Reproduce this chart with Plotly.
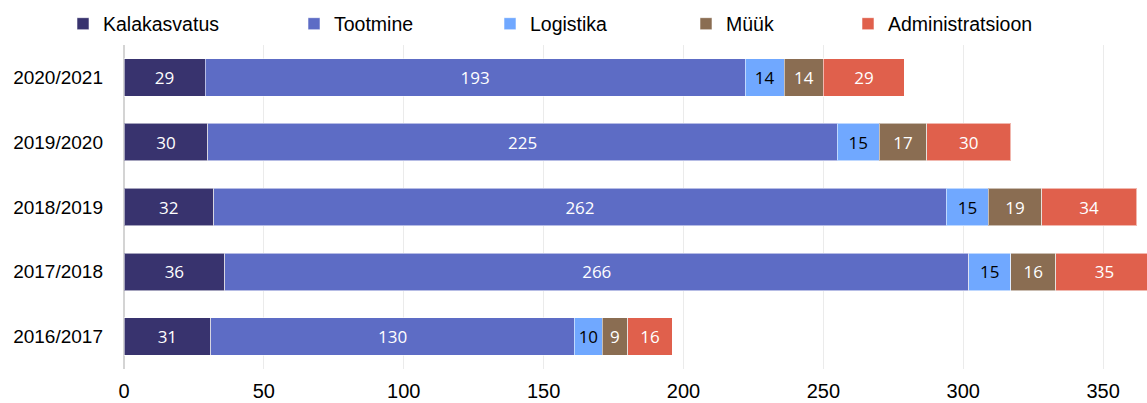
import plotly.graph_objects as go

years = ["2020/2021", "2019/2020", "2018/2019", "2017/2018", "2016/2017"]
series_names = ["Kalakasvatus", "Tootmine", "Logistika", "Müük", "Administratsioon"]
kalakasvatus = [29, 30, 32, 36, 31]
tootmine = [193, 225, 262, 266, 130]
logistika = [14, 15, 15, 15, 10]
myyk = [14, 17, 19, 16, 9]
administratsioon = [29, 30, 34, 35, 16]
x_ticks = [0, 50, 100, 150, 200, 250, 300, 350]

values = [kalakasvatus, tootmine, logistika, myyk, administratsioon]
colors = ["#38336E", "#5D6CC5", "#70A8FF", "#8A6D52", "#E0604C"]
label_colors = ["white", "white", "black", "white", "white"]

# layout geometry (pixels)
W, H = 1147, 403
ML, MR, MT, MB = 124, 0, 45, 34
PW = W - ML - MR
PH = H - MT - MB
legend_px = [63, 294, 490, 686, 848]
legend_cy = 24

fig = go.Figure()
for i, (name, vals) in enumerate(zip(series_names, values)):
    lg = "legend" if i == 0 else f"legend{i+1}"
    fig.add_trace(go.Bar(
        y=years, x=vals, name=name, orientation="h",
        marker=dict(color=colors[i], line=dict(color="rgba(255,255,255,0.55)", width=1)),
        text=[str(v) for v in vals], textposition="inside",
        insidetextanchor="middle", textangle=0,
        textfont=dict(family="Open Sans", size=17, color=label_colors[i]),
        legend=lg, hoverinfo="x+y+name",
    ))

layout_legends = {}
for i in range(5):
    key = "legend" if i == 0 else f"legend{i+1}"
    layout_legends[key] = dict(
        x=(legend_px[i] - ML) / PW, xanchor="left",
        y=(H - MB - legend_cy) / PH, yanchor="middle",
        orientation="h", bgcolor="rgba(0,0,0,0)", borderwidth=0,
        font=dict(family="Liberation Sans, Arial", size=19.5, color="#000000"),
        itemclick=False, itemdoubleclick=False,
    )

fig.update_layout(
    width=W, height=H,
    margin=dict(l=ML, r=MR, t=MT, b=MB, pad=0),
    barmode="stack", bargap=0.42,
    plot_bgcolor="white", paper_bgcolor="white",
    showlegend=True,
    uniformtext=dict(minsize=17, mode="show"),
    xaxis=dict(
        range=[0, 365.7], tickvals=x_ticks, ticktext=[str(t) for t in x_ticks],
        showgrid=True, gridcolor="#EBEBEB", gridwidth=1,
        zeroline=True, zerolinecolor="#D4D4D4", zerolinewidth=1.5,
        showline=False, ticks="", ticklabelstandoff=8,
        tickfont=dict(family="Liberation Sans, Arial", size=20, color="#000000"),
        fixedrange=True,
    ),
    yaxis=dict(
        categoryorder="array", categoryarray=years, autorange="reversed",
        showgrid=False, zeroline=False, showline=False, ticks="",
        ticklabelstandoff=20,
        tickfont=dict(family="Liberation Sans, Arial", size=19, color="#000000"),
        fixedrange=True,
    ),
    **layout_legends,
)

fig.write_html(
    "out.html",
    config={"displayModeBar": False},
    post_script="document.body.style.margin='0';document.body.style.overflow='hidden';",
)
